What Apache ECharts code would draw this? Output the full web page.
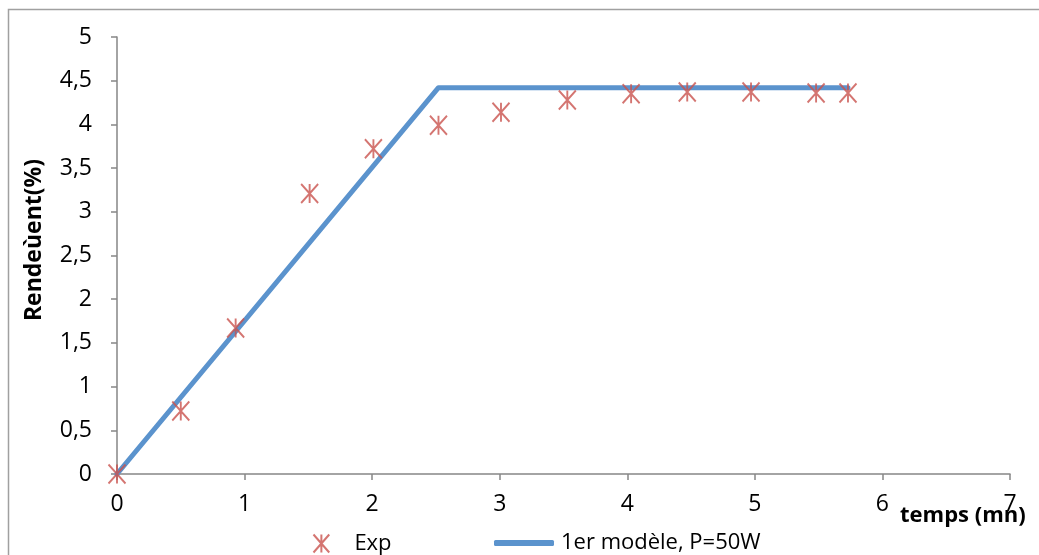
<!DOCTYPE html>
<html>
<head>
<meta charset="utf-8">
<script src="https://cdn.jsdelivr.net/npm/echarts@6/dist/echarts.min.js"></script>
<style>
html,body{margin:0;padding:0;background:#fff;}
#c{width:1039px;height:555px;}
</style>
</head>
<body>
<div id="c"></div>
<script>
var expX = [0, 0.5, 0.93, 1.51, 2.01, 2.52, 3.01, 3.53, 4.03, 4.47, 4.97, 5.48, 5.73];
var expY = [0, 0.72, 1.67, 3.21, 3.72, 3.99, 4.14, 4.28, 4.35, 4.37, 4.37, 4.36, 4.36];
var modelX = [0, 2.52, 5.73];
var modelY = [0, 4.42, 4.42];
var seriesNames = ['Exp', '1er modèle, P=50W'];
var xTitle = 'temps (mn)';
var yTitle = 'Rendeùent(%)';

var FONT = 'Open Sans';
var chart = echarts.init(document.getElementById('c'), null, {renderer: 'canvas'});
var star = 'path://M0,0L14,16M14,0L0,16M7,0L7,16';
var axisColor = '#868686';
var red = '#c9524d';

chart.setOption({
  animation: false,
  backgroundColor: '#fff',
  textStyle: {fontFamily: FONT},
  grid: {left: 117, right: 29, top: 37, bottom: 81, containLabel: false},
  graphic: [
    {type: 'rect', shape: {x: 8.5, y: 9.5, width: 1100, height: 600}, style: {fill: 'none', stroke: '#a0a0a0', lineWidth: 1.5}, silent: true},
    {type: 'text', x: 900, y: 516, z: 10,
     style: {text: xTitle, font: 'bold 22px "' + FONT + '"', fill: '#000', textAlign: 'left', textVerticalAlign: 'middle'}},
    {type: 'text', x: 34, y: 240, rotation: Math.PI / 2, z: 10,
     style: {text: yTitle, font: 'bold 23px "' + FONT + '"', fill: '#000', textAlign: 'center', textVerticalAlign: 'middle'}}
  ],
  legend: [
    {data: [seriesNames[0]], left: 306, top: 527, itemWidth: 16, itemHeight: 18, itemGap: 10,
     textStyle: {fontSize: 22, fontFamily: FONT, color: '#000', padding: [0, 0, 0, 20]}},
    {data: [{name: seriesNames[1], icon: 'roundRect'}], left: 489, top: 527, itemWidth: 60, itemHeight: 6,
     textStyle: {fontSize: 22, fontFamily: FONT, color: '#000', padding: [0, 0, 0, 2]}}
  ],
  xAxis: {
    type: 'value', min: 0, max: 7, interval: 1,
    axisLine: {lineStyle: {color: axisColor, width: 1.5}},
    axisTick: {show: true, length: 6, lineStyle: {color: axisColor, width: 1.5}},
    splitLine: {show: false},
    axisLabel: {fontSize: 23, color: '#000', fontFamily: FONT, margin: 19}
  },
  yAxis: {
    type: 'value', min: 0, max: 5, interval: 0.5,
    axisLine: {show: true, lineStyle: {color: axisColor, width: 1.5}},
    axisTick: {show: true, length: 6, lineStyle: {color: axisColor, width: 1.5}},
    splitLine: {show: false},
    axisLabel: {fontSize: 23, color: '#000', fontFamily: FONT, margin: 25,
      formatter: function (v) { return String(v).replace('.', ','); }}
  },
  series: [
    {
      name: seriesNames[1], type: 'line', z: 2,
      data: modelX.map(function (x, i) { return [x, modelY[i]]; }),
      showSymbol: false, symbol: 'none',
      lineStyle: {color: '#5b93cd', width: 5, cap: 'round', join: 'round'},
      itemStyle: {color: '#5b93cd'}
    },
    {
      name: seriesNames[0], type: 'scatter', z: 3,
      data: expX.map(function (x, i) { return [x, expY[i]]; }),
      symbol: star, symbolSize: [17, 19],
      itemStyle: {color: 'none', borderColor: red, borderWidth: 2}
    }
  ]
});
</script>
</body>
</html>
